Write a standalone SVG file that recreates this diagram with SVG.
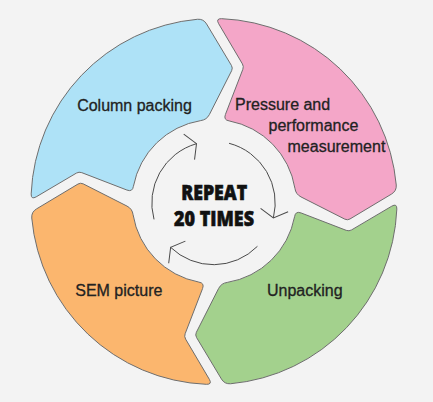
<svg xmlns="http://www.w3.org/2000/svg" xmlns:xlink="http://www.w3.org/1999/xlink" width="433" height="402" viewBox="0 0 433 402">
  <style>
    .seg { stroke: #6e6e6e; stroke-width: 1; stroke-linejoin: round; }
    .lbl { font-family: "Liberation Sans", Arial, sans-serif; font-size: 16px; fill: #222222; stroke: #222222; stroke-width: 0.3; }
    .big { font-family: "Open Sans", "Liberation Sans", sans-serif; font-weight: 800; font-size: 20.5px; fill: #111111; stroke: #111111; stroke-width: 0.6; text-anchor: middle; }
    .arc { fill: none; stroke: #4a4a4a; stroke-width: 1; }
  </style>
  <defs>
    <path id="seg" d="M 221.60 18.66 A 183 183 0 0 1 396.25 184.98 Q 396.70 190.97 391.55 194.06 L 350.03 218.95 Q 347.46 220.49 344.79 219.13 L 301.03 196.93 Q 295.68 194.21 294.92 188.26 A 82 82 0 0 0 229.21 120.92 Q 223.28 120.03 225.44 114.43 L 242.85 69.28 Q 243.93 66.48 242.40 63.90 L 218.65 23.68 Q 215.60 18.51 221.60 18.66 Z"/>
    <marker id="vhead" markerUnits="userSpaceOnUse" markerWidth="40" markerHeight="40" refX="0" refY="0" orient="auto" overflow="visible">
      <path d="M -6.25 14.73 L 0 0 L -9.63 -12.78" fill="none" stroke="#4a4a4a" stroke-width="1"/>
    </marker>
  </defs>
  <rect x="0" y="0" width="433" height="402" fill="#f3f3f3"/>

  <g id="node-column-packing">
    <use xlink:href="#seg" href="#seg" class="seg" fill="#aee2f7" transform="rotate(270 214 201.5)"/>
    <text class="lbl" x="134.5" y="111" text-anchor="middle">Column packing</text>
  </g>
  <g id="node-pressure">
    <use xlink:href="#seg" href="#seg" class="seg" fill="#f4a6c8"/>
    <text class="lbl" x="235" y="110">Pressure and</text>
    <text class="lbl" x="268.5" y="131">performance</text>
    <text class="lbl" x="287.5" y="152">measurement</text>
  </g>
  <g id="node-unpacking">
    <use xlink:href="#seg" href="#seg" class="seg" fill="#a3d18d" transform="rotate(90 214 201.5)"/>
    <text class="lbl" x="304.8" y="296" text-anchor="middle">Unpacking</text>
  </g>
  <g id="node-sem">
    <use xlink:href="#seg" href="#seg" class="seg" fill="#fbb66e" transform="rotate(180 214 201.5)"/>
    <text class="lbl" x="118.8" y="296" text-anchor="middle">SEM picture</text>
  </g>

  <g id="connectors">
    <path class="arc" d="M 229.05 143.29 A 61.7 61.7 0 0 1 273.37 217.93" marker-end="url(#vhead)"/>
    <path class="arc" d="M 257.43 246.32 A 61.7 61.7 0 0 1 170.64 247.38" marker-end="url(#vhead)"/>
    <path class="arc" d="M 154.02 219.39 A 61.7 61.7 0 0 1 196.49 143.69" marker-end="url(#vhead)"/>
  </g>

  <g id="center">
    <text class="big" x="214.2" y="200" textLength="66" lengthAdjust="spacingAndGlyphs">REPEAT</text>
    <text class="big" x="214" y="225.7" textLength="80" lengthAdjust="spacingAndGlyphs">20 TIMES</text>
  </g>
</svg>
